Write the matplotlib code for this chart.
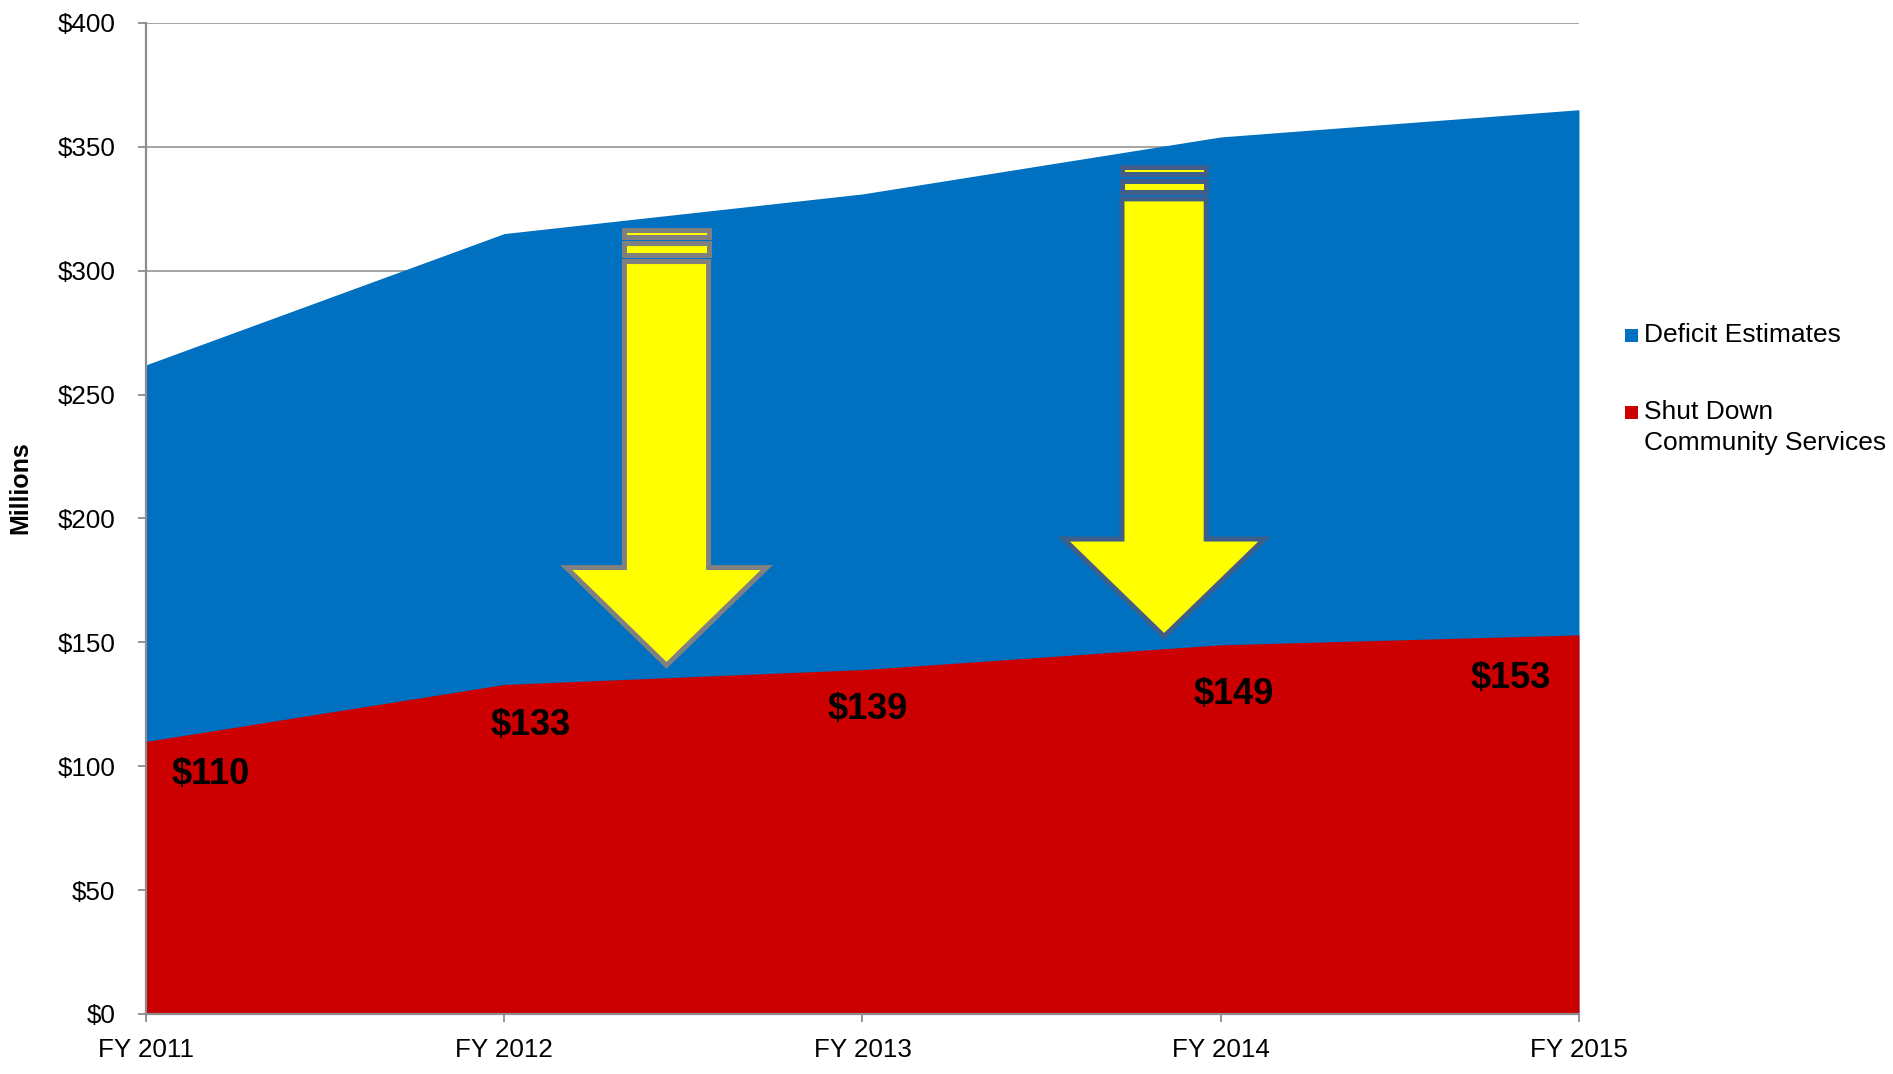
import matplotlib.pyplot as plt
from matplotlib.patches import Polygon, Rectangle

plt.rcParams['font.family'] = ['Liberation Sans', 'DejaVu Sans']

years = ["FY 2011", "FY 2012", "FY 2013", "FY 2014", "FY 2015"]
deficit_total = [262, 315, 331, 354, 365]
shutdown = [110, 133, 139, 149, 153]
label_dx = [0.18, 0.075, 0.015, 0.037, -0.19]
label_dy = [-13.5, -16.5, -16, -20, -17.5]

# arrows: centre x, top of stack, top of head, tip
arrow_x = [1.453, 2.842]
arrow_top = [317.4, 342.7]
arrow_head = [181.2, 192.7]
arrow_tip = [139.3, 151.0]
arrow_edge = ["#808080", "#3F5F8A"]

BLUE = "#0070C0"
RED = "#CC0000"
YELLOW = "#FFFF00"
GRID = "#8C8C8C"


def draw_arrow(ax, cx, top, head, tip, edge):
    lw = 3.6
    hs = 0.1175   # shaft half width
    hh = 0.28     # head half width
    # two thin bands on top of the shaft
    bands = [(top - 1.0, top - 3.7), (top - 6.3, top - 11.1)]
    for y0, y1 in bands:
        ax.add_patch(Rectangle((cx - hs, y1), 2 * hs, y0 - y1, facecolor=YELLOW,
                               edgecolor=edge, linewidth=lw, zorder=5,
                               joinstyle="miter"))
    st = top - 13.7
    pts = [(cx - hs, st), (cx + hs, st), (cx + hs, head - 1.0), (cx + hh, head - 1.0),
           (cx, tip + 1.4), (cx - hh, head - 1.0), (cx - hs, head - 1.0)]
    ax.add_patch(Polygon(pts, closed=True, facecolor=YELLOW, edgecolor=edge,
                         linewidth=lw, zorder=5, joinstyle="miter"))


def main():
    fig = plt.figure(figsize=(18.93, 10.74), dpi=100)
    ax = fig.add_axes([0.0771, 0.0559, 0.7570, 0.9227])

    x = list(range(len(years)))
    ax.fill_between(x, 0, deficit_total, color=BLUE, linewidth=0, zorder=2)
    ax.fill_between(x, 0, shutdown, color=RED, linewidth=0, zorder=3)

    for i, v in enumerate(shutdown):
        ax.text(i + label_dx[i], v + label_dy[i], f"${v}", fontsize=26,
                fontweight="bold", ha="center", va="center", zorder=6)

    for i in range(len(arrow_x)):
        draw_arrow(ax, arrow_x[i], arrow_top[i], arrow_head[i], arrow_tip[i],
                   arrow_edge[i])

    ax.set_xlim(0, 4)
    ax.set_ylim(0, 400)
    ax.set_xticks(x)
    ax.set_xticklabels(years)
    ax.set_yticks(range(0, 401, 50))
    ax.set_yticklabels([f"${v}" for v in range(0, 401, 50)])
    ax.yaxis.grid(True, color=GRID, linewidth=1.1, zorder=1)
    ax.set_axisbelow(True)
    for s in ["top", "right"]:
        ax.spines[s].set_visible(False)
    for s in ["left", "bottom"]:
        ax.spines[s].set_color(GRID)
        ax.spines[s].set_linewidth(1.6)
        ax.spines[s].set_zorder(4)
    ax.tick_params(axis="y", length=6, width=1.3, color=GRID, pad=16, labelsize=18.7)
    ax.tick_params(axis="x", length=6, width=1.3, color=GRID, pad=11, labelsize=18.7)

    fig.text(20 / 1893, 0.5456, "Millions", rotation=90, ha="center", va="center",
             fontsize=18, fontweight="bold",
             family=["Liberation Sans Narrow", "Liberation Sans"])

    # legend
    sq = 13
    fig.add_artist(Rectangle(((1631 - sq / 2) / 1893, 1 - (335 + sq / 2) / 1074),
                             sq / 1893, sq / 1074, transform=fig.transFigure,
                             facecolor=BLUE, edgecolor="none"))
    fig.add_artist(Rectangle(((1631 - sq / 2) / 1893, 1 - (412 + sq / 2) / 1074),
                             sq / 1893, sq / 1074, transform=fig.transFigure,
                             facecolor=RED, edgecolor="none"))
    fig.text(1644 / 1893, 1 - 335 / 1074, "Deficit Estimates", fontsize=19,
             va="center", ha="left")
    fig.text(1644 / 1893, 1 - 412 / 1074, "Shut Down", fontsize=19,
             va="center", ha="left")
    fig.text(1644 / 1893, 1 - 443 / 1074, "Community Services", fontsize=19,
             va="center", ha="left")

    fig.savefig("out.png", dpi=100)


if __name__ == "__main__":
    main()
